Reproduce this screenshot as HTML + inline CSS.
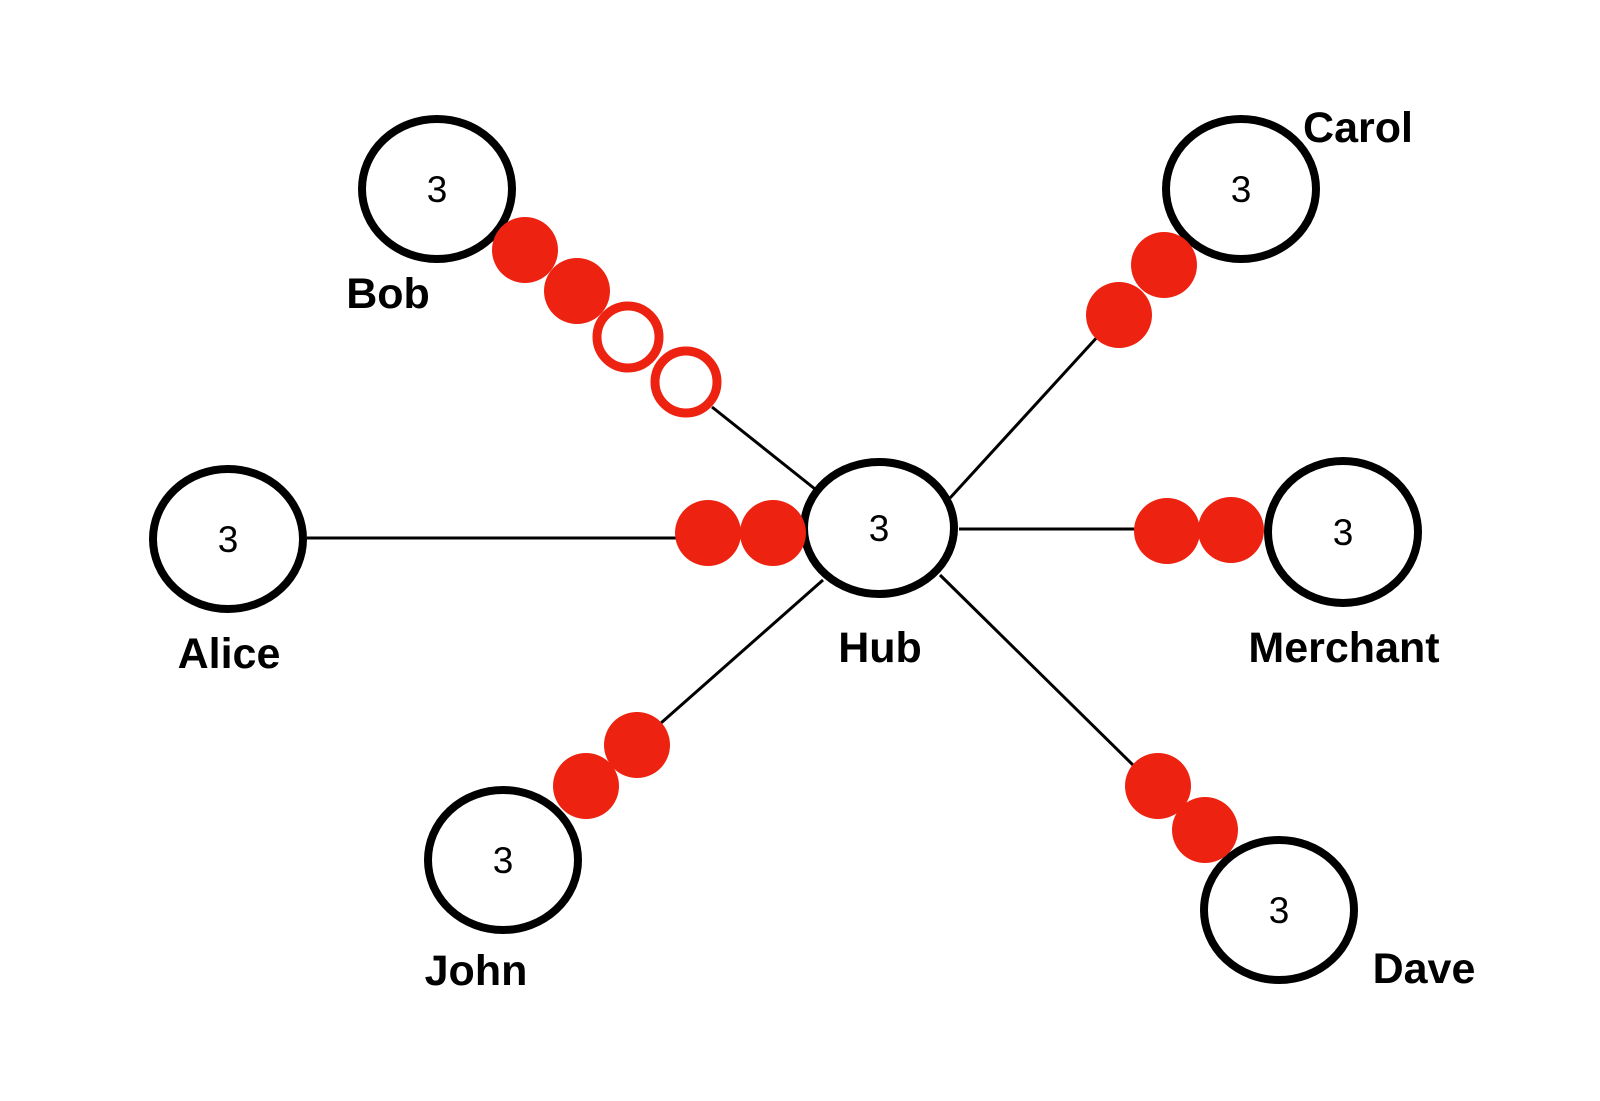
<!DOCTYPE html>
<html><head><meta charset="utf-8"><style>
html,body{margin:0;padding:0;background:#fff;}
svg{display:block}
.l{font-family:"Liberation Sans",sans-serif;font-weight:bold;font-size:43px;fill:#000;text-anchor:middle}
.n{font-family:"Liberation Sans",sans-serif;font-size:37px;fill:#000;text-anchor:middle}
</style></head><body>
<svg width="1600" height="1101" viewBox="0 0 1600 1101" xmlns="http://www.w3.org/2000/svg">
<g stroke="#000" stroke-width="3">
<line x1="712" y1="407" x2="815" y2="489"/>
<line x1="307" y1="538" x2="680" y2="538"/>
<line x1="950" y1="498" x2="1100" y2="334"/>
<line x1="959" y1="529" x2="1140" y2="529"/>
<line x1="823" y1="580" x2="661" y2="723"/>
<line x1="940" y1="575" x2="1134" y2="766"/>
</g>
<g fill="#fff" stroke="#000" stroke-width="8">
<ellipse cx="437" cy="189" rx="75" ry="70"/>
<ellipse cx="1241" cy="189" rx="75" ry="70"/>
<ellipse cx="228" cy="539" rx="75" ry="70"/>
<ellipse cx="879" cy="528" rx="75" ry="66"/>
<ellipse cx="1343" cy="532" rx="75" ry="71"/>
<ellipse cx="503" cy="860" rx="75" ry="70"/>
<ellipse cx="1279" cy="910" rx="75" ry="70"/>
</g>
<g fill="#ee2211">
<circle cx="525" cy="250" r="33"/>
<circle cx="577" cy="291" r="33"/>
<circle cx="1164" cy="265" r="33"/>
<circle cx="1119" cy="315" r="33"/>
<circle cx="708" cy="533" r="33"/>
<circle cx="773" cy="533" r="33"/>
<circle cx="1167" cy="531" r="33"/>
<circle cx="1231" cy="530" r="33"/>
<circle cx="637" cy="745" r="33"/>
<circle cx="586" cy="786" r="33"/>
<circle cx="1158" cy="786" r="33"/>
<circle cx="1205" cy="830" r="33"/>
</g>
<g fill="#fff" stroke="#ee2211" stroke-width="9">
<circle cx="628" cy="337" r="31"/>
<circle cx="686" cy="382" r="31"/>
</g>
<g>
<text x="437" y="202" class="n">3</text>
<text x="1241" y="202" class="n">3</text>
<text x="228" y="552" class="n">3</text>
<text x="879" y="541" class="n">3</text>
<text x="1343" y="545" class="n">3</text>
<text x="503" y="873" class="n">3</text>
<text x="1279" y="923" class="n">3</text>
</g>
<text x="388" y="308" class="l">Bob</text>
<text x="1358" y="142" class="l">Carol</text>
<text x="229" y="668" class="l">Alice</text>
<text x="880" y="662" class="l">Hub</text>
<text x="1344" y="662" class="l">Merchant</text>
<text x="476" y="985" class="l">John</text>
<text x="1424" y="983" class="l">Dave</text>
</svg>
</body></html>
